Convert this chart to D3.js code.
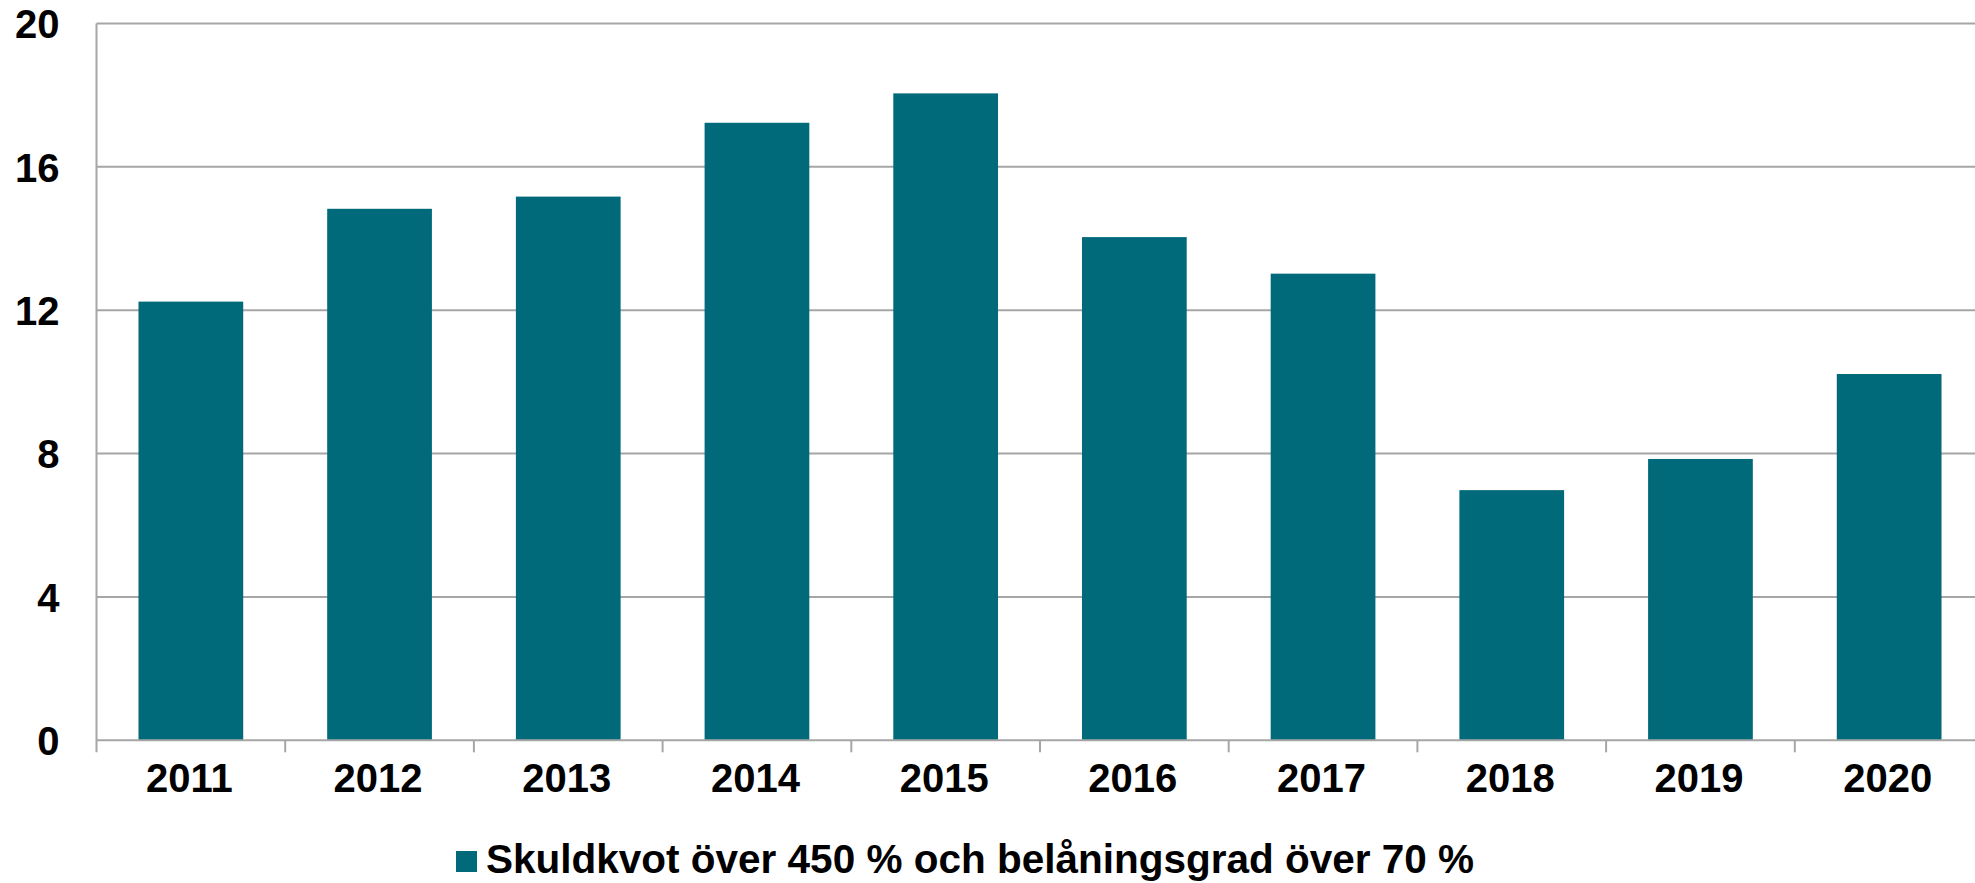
<!DOCTYPE html>
<html>
<head>
<meta charset="utf-8">
<script src="https://cdn.jsdelivr.net/npm/d3@7"></script>
<style>
  html, body { margin: 0; padding: 0; background: #fff; }
  svg { display: block; }
  text { font-family: "Liberation Sans", Arial, sans-serif; font-weight: bold; fill: #000; }
</style>
</head>
<body>
<svg id="chart" width="1975" height="883"></svg>
<script>
const years = ["2011","2012","2013","2014","2015","2016","2017","2018","2019","2020"];
const values = [12.24, 14.83, 15.17, 17.23, 18.05, 14.04, 13.02, 6.98, 7.85, 10.22];
const yTicks = [0, 4, 8, 12, 16, 20];
const seriesName = "Skuldkvot över 450 % och belåningsgrad över 70 %";

(function () {
const W = 1975, H = 883;
const mLeft = 96.5, mRight = 1983.5, mTop = 23.5, mBottom = 740.3;
const barColor = "#006a7a";
const gridColor = "#a6a6a6";

const svg = d3.select("#chart");

const x = d3.scaleBand().domain(years).range([mLeft, mRight]).paddingInner(0.445).paddingOuter(0.2225);
const y = d3.scaleLinear().domain([0, 20]).range([mBottom, mTop]);

// gridlines
svg.append("g").selectAll("line").data(yTicks.filter(d => d > 0)).join("line")
  .attr("x1", mLeft).attr("x2", W)
  .attr("y1", d => y(d)).attr("y2", d => y(d))
  .attr("stroke", gridColor).attr("stroke-width", 2);

// bars
svg.append("g").selectAll("rect").data(years).join("rect")
  .attr("x", d => x(d))
  .attr("width", x.bandwidth())
  .attr("y", (d, i) => y(values[i]))
  .attr("height", (d, i) => y(0) - y(values[i]))
  .attr("fill", barColor);

// y axis
const yAxis = d3.axisLeft(y).tickValues(yTicks).tickSize(0).tickPadding(37).tickFormat(d3.format("d"));
const gy = svg.append("g").attr("transform", `translate(${mLeft},0)`).call(yAxis);
gy.select(".domain").remove();
gy.selectAll("text").style("font-size", "40px").attr("dy", "0.36em");
svg.append("line").attr("x1", mLeft).attr("x2", mLeft).attr("y1", mTop).attr("y2", mBottom + 12)
  .attr("stroke", gridColor).attr("stroke-width", 2);

// x axis line
svg.append("line").attr("x1", mLeft).attr("x2", W).attr("y1", mBottom).attr("y2", mBottom)
  .attr("stroke", gridColor).attr("stroke-width", 2);

// x ticks at band boundaries
const gap = (x.step() - x.bandwidth()) / 2;
const bounds = years.map(d => x(d) - gap);
svg.append("g").selectAll("line").data(bounds.slice(1)).join("line")
  .attr("x1", d => d).attr("x2", d => d)
  .attr("y1", mBottom).attr("y2", mBottom + 12)
  .attr("stroke", gridColor).attr("stroke-width", 2);

// x labels
const xAxis = d3.axisBottom(x).tickSize(0).tickPadding(0);
const gx = svg.append("g").attr("transform", `translate(-1.5,${mBottom})`).call(xAxis);
gx.select(".domain").remove();
gx.selectAll("text").style("font-size", "40px").attr("y", 52).attr("dy", null);

// legend
const lg = svg.append("g");
lg.append("rect").attr("x", 456).attr("y", 851).attr("width", 21).attr("height", 21).attr("fill", barColor);
lg.append("text").attr("x", 486).attr("y", 873).style("font-size", "40.5px").text(seriesName);
})();
</script>
</body>
</html>
